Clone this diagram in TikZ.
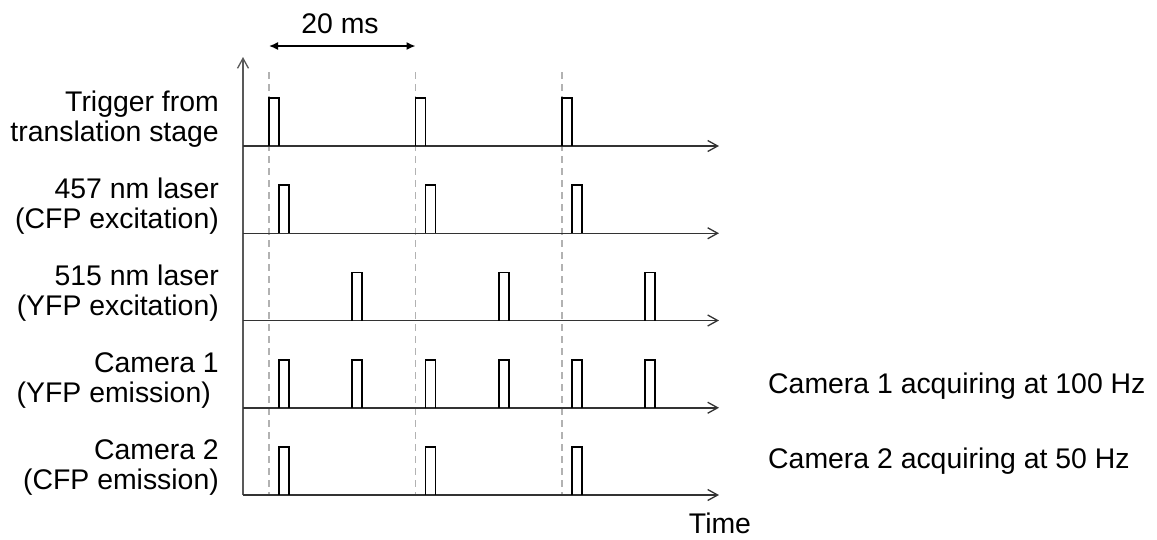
\documentclass[tikz,border=0pt]{standalone}
\usepackage{fontspec}
\setmainfont{Liberation Sans}
\usetikzlibrary{arrows.meta}

% one rectangular pulse, left edge #1, sitting on the time axis at height #2
\newcommand\pulseat[2]{%
  \draw[pulse] ({#1},{#2}) -- ({#1},{#2-48}) -- ({#1+10},{#2-48}) -- ({#1+10},{#2});}

\begin{document}
\begin{tikzpicture}[x=1pt,y=-1pt,
  lbl/.style={font=\fontsize{28.4pt}{30pt}\selectfont, inner sep=0pt},
  axis/.style={line width=1.5pt, draw=black!80,
    -{Straight Barb[length=10pt,width=11pt,line width=1.3pt]}},
  pulse/.style={line width=1.7pt, draw=black, line join=miter},
  guide/.style={line width=1.5pt, draw=black!30, dash pattern=on 7pt off 5pt},
  span/.style={line width=1.5pt,
    {Latex[length=9pt,width=8pt]}-{Latex[length=9pt,width=8pt]}}]
\useasboundingbox (0,0) rectangle (1157,539);

% time axes of the five channels
\foreach \i/\y in {1/146,2/233.25,3/320.5,4/407.75,5/495} {
  \coordinate (base\i) at (243,\y);
  \coordinate (end\i) at (719,\y);
}

% trigger instants (20 ms apart)
\foreach \k in {0,1,2} {
  \coordinate (gtop\k) at ({269+\k*146.5},72);
  \coordinate (gbot\k) at ({269+\k*146.5},495);
  \draw[guide] (gtop\k) -- (gbot\k);
}

% period marker
\coordinate (spanL) at (269,46);
\coordinate (spanR) at (415.5,46);
\draw[span] (spanL) -- (spanR);
\node[lbl, anchor=base] (period) at (340,33) {20 ms};

% axes
\coordinate (yaxtop) at (243,57);
\draw[axis, draw=black!65] (base5) -- (yaxtop);
\foreach \i in {1,...,5} {\draw[axis] (base\i) -- (end\i);}

% pulse trains
\foreach \k in {0,1,2} {\pulseat{269+\k*146.5}{146}}
\foreach \k in {0,1,2} {\pulseat{279+\k*146.5}{233.25}}
\foreach \k in {0,1,2} {\pulseat{352.25+\k*146.5}{320.5}}
\foreach \k in {0,...,5} {\pulseat{279+\k*73.25}{407.75}}
\foreach \k in {0,1,2} {\pulseat{279+\k*146.5}{495}}

% channel labels
\node[lbl, align=right, anchor=east] (trig) at (219,119) {Trigger from\\translation stage};
\node[lbl, align=right, anchor=east] (cfpex) at (219,206.25) {457 nm laser\\(CFP excitation)};
\node[lbl, align=right, anchor=east] (yfpex) at (219,293.5) {515 nm laser\\(YFP excitation)};
\node[lbl, align=right, anchor=east] (cam1) at (219,380.75) {Camera 1\\(YFP emission)\kern8pt};
\node[lbl, align=right, anchor=east] (cam2) at (219,468) {Camera 2\\(CFP emission)};

% acquisition rates and time label
\node[lbl, anchor=base west] (cam1rate) at (768,393) {Camera 1 acquiring at 100 Hz};
\node[lbl, anchor=base west] (cam2rate) at (768,468) {Camera 2 acquiring at 50 Hz};
\node[lbl, anchor=base] (time) at (720,533) {Time};
\end{tikzpicture}
\end{document}
